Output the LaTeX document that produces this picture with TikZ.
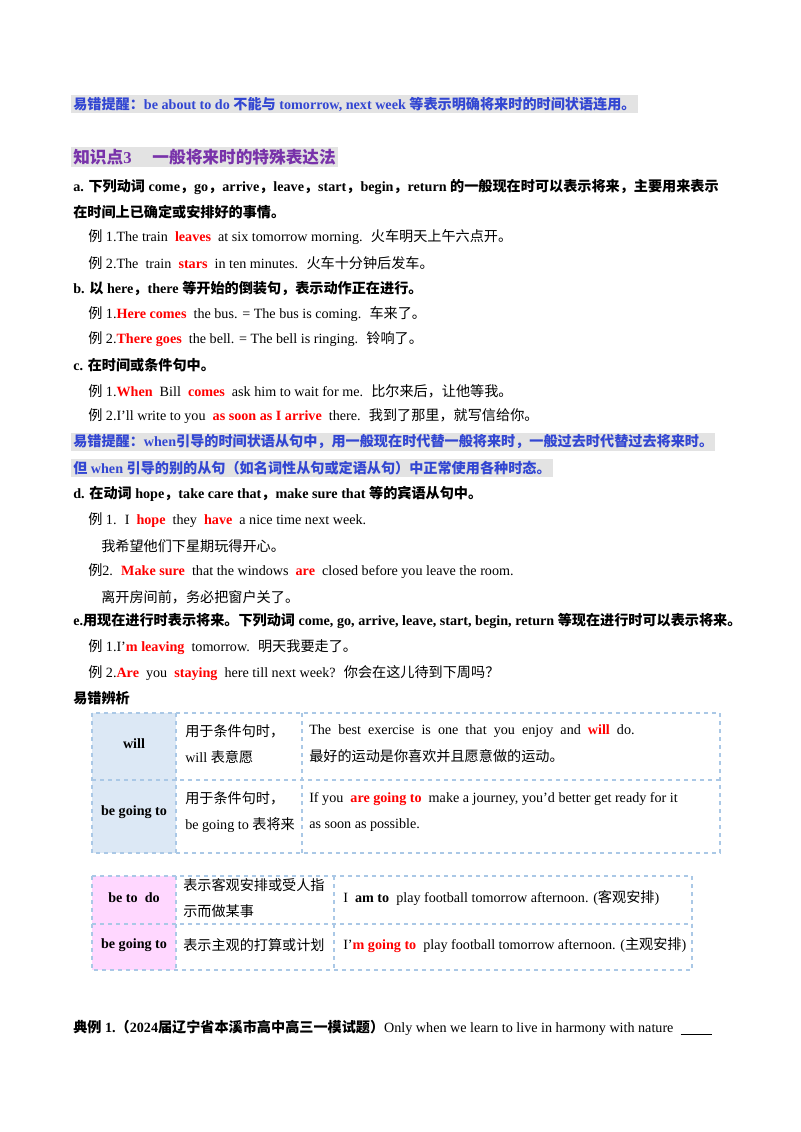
\documentclass[tikz,border=0pt]{standalone}
\usepackage{fontspec}
\setmainfont{Liberation Serif}
\newfontfamily\cjk{Noto Sans CJK SC}
\newcommand\zh[1]{{\cjk #1}}
\newcommand\hl[1]{\textcolor{red}{\bfseries #1}}
\definecolor{tipblue}{RGB}{50,70,210}
\definecolor{headpurple}{RGB}{120,50,170}
\definecolor{gridblue}{RGB}{170,200,230}
\definecolor{cellblue}{RGB}{220,232,245}
\definecolor{cellpink}{RGB}{255,215,255}
\tikzset{
  txt/.style={anchor=west, inner sep=0pt, font=\fontsize{10.6}{13}\selectfont},
  bold/.style={txt, font=\fontsize{10.6}{13}\selectfont\bfseries},
  tip/.style={bold, text=tipblue, fill=gray!22, inner sep=1.5pt},
  head/.style={anchor=west, inner sep=1.5pt, fill=gray!22, text=headpurple, font=\fontsize{12.5}{15}\selectfont\bfseries},
  grid/.style={gridblue, dashed, line width=0.8pt},
  cell/.style={txt, align=left, text width=#1}
}
\begin{document}
\begin{tikzpicture}[x=0.75pt,y=-0.75pt]
\useasboundingbox (0,0) rectangle (800,1132);
%tip
\node[tip] (tip1) at (71,104) {\zh{易错提醒：}be about to do \zh{不能与} tomorrow, next week \zh{等表示明确将来时的时间状语连用。}};
%heading
\node[head] (head) at (71,157) {\zh{知识点}3\quad\ \zh{一般将来时的特殊表达法}};
%part a
\node[bold] (a1) at (73,187) {a. \zh{下列动词} come\zh{，}go\zh{，}arrive\zh{，}leave\zh{，}start\zh{，}begin\zh{，}return \zh{的一般现在时可以表示将来，主要用来表示}};
\node[bold] (a2) at (73,212) {\zh{在时间上已确定或安排好的事情。}};
\node[txt] (a3) at (88,237) {\zh{例} 1.The train \ \hl{leaves} \ at six tomorrow morning. \ \zh{火车明天上午六点开。}};
\node[txt] (a4) at (88,263) {\zh{例} 2.The \ train \ \hl{stars} \ in ten minutes. \ \zh{火车十分钟后发车。}};
%part b
\node[bold] (b1) at (73,288) {b. \zh{以} here\zh{，}there \zh{等开始的倒装句，表示动作正在进行。}};
\node[txt] (b2) at (88,314) {\zh{例} 1.\hl{Here comes} \ the bus. = The bus is coming. \ \zh{车来了。}};
\node[txt] (b3) at (88,339) {\zh{例} 2.\hl{There goes} \ the bell. = The bell is ringing. \ \zh{铃响了。}};
%part c
\node[bold] (c1) at (73,365) {c. \zh{在时间或条件句中。}};
\node[txt] (c2) at (88,391) {\zh{例} 1.\hl{When} \ Bill \ \hl{comes} \ ask him to wait for me. \ \zh{比尔来后，让他等我。}};
\node[txt] (c3) at (88,416) {\zh{例} 2.I'll write to you \ \hl{as soon as I arrive} \ there. \ \zh{我到了那里，就写信给你。}};
\node[tip] (tip2) at (71,442) {\zh{易错提醒：}when\zh{引导的时间状语从句中，用一般现在时代替一般将来时，一般过去时代替过去将来时。}};
\node[tip] (tip3) at (71,468) {\zh{但} when \zh{引导的别的从句（如名词性从句或定语从句）中正常使用各种时态。}};
%part d
\node[bold] (d1) at (73,494) {d. \zh{在动词} hope\zh{，}take care that\zh{，}make sure that \zh{等的宾语从句中。}};
\node[txt] (d2) at (88,520) {\zh{例} 1. \ I \ \hl{hope} \ they \ \hl{have} \ a nice time next week.};
\node[txt] (d3) at (101,546) {\zh{我希望他们下星期玩得开心。}};
\node[txt] (d4) at (88,571) {\zh{例}2. \ \hl{Make sure} \ that the windows \ \hl{are} \ closed before you leave the room.};
\node[txt] (d5) at (101,597) {\zh{离开房间前，务必把窗户关了。}};
%part e
\node[bold] (e1) at (73,621) {e.\zh{用现在进行时表示将来。下列动词} come, go, arrive, leave, start, begin, return \zh{等现在进行时可以表示将来。}};
\node[txt] (e2) at (88,647) {\zh{例} 1.I'\hl{m leaving} \ tomorrow. \ \zh{明天我要走了。}};
\node[txt] (e3) at (88,673) {\zh{例} 2.\hl{Are} \ you \ \hl{staying} \ here till next week? \ \zh{你会在这儿待到下周吗？}};
\node[bold] (e4) at (73,698) {\zh{易错辨析}};
%table 1
\fill[cellblue] (92,713) rectangle (176,853);
\draw[grid] (92,713) rectangle (720,853);
\draw[grid] (92,780) -- (720,780);
\foreach \x in {176,302} \draw[grid] (\x,713) -- (\x,853);
\node[bold] (t1a) at (134,744) [anchor=center] {will};
\node[txt, align=left] (t1b) at (185,744) {\zh{用于条件句时，}\\[7pt]will \zh{表意愿}};
\node[txt, align=left] (t1c) at (309,744) {The \ best \ exercise \ is \ one \ that \ you \ enjoy \ and \ \hl{will} \ do.\\[7pt]\zh{最好的运动是你喜欢并且愿意做的运动。}};
\node[bold] (t1d) at (134,812) [anchor=center] {be going to};
\node[txt, align=left] (t1e) at (185,812) {\zh{用于条件句时，}\\[7pt]be going to \zh{表将来}};
\node[txt, align=left] (t1f) at (309,812) {If you \ \hl{are going to} \ make a journey, you'd better get ready for it\\[7pt]as soon as possible.};
%table 2
\fill[cellpink] (92,876) rectangle (176,970);
\draw[grid] (92,876) rectangle (692,970);
\draw[grid] (92,924) -- (692,924);
\foreach \x in {176,334} \draw[grid] (\x,876) -- (\x,970);
\node[bold] (t2a) at (134,898) [anchor=center] {be to \ do};
\node[txt, align=left] (t2b) at (183,898) {\zh{表示客观安排或受人指}\\[7pt]\zh{示而做某事}};
\node[txt] (t2c) at (343,898) {I \ \textbf{am to} \ play football tomorrow afternoon. (\zh{客观安排})};
\node[bold] (t2d) at (134,945) [anchor=center] {be going to};
\node[txt] (t2e) at (183,945) {\zh{表示主观的打算或计划}};
\node[txt] (t2f) at (343,945) {I'\hl{m going to} \ play football tomorrow afternoon. (\zh{主观安排})};
%example
\node[txt] (ex) at (73,1028) {\textbf{\zh{典例} 1.\zh{（}2024\zh{届辽宁省本溪市高中高三一模试题）}}Only when we learn to live in harmony with nature \ \underline{\ \ \ \ \ \ \ \ \ }};
\end{tikzpicture}
\end{document}
